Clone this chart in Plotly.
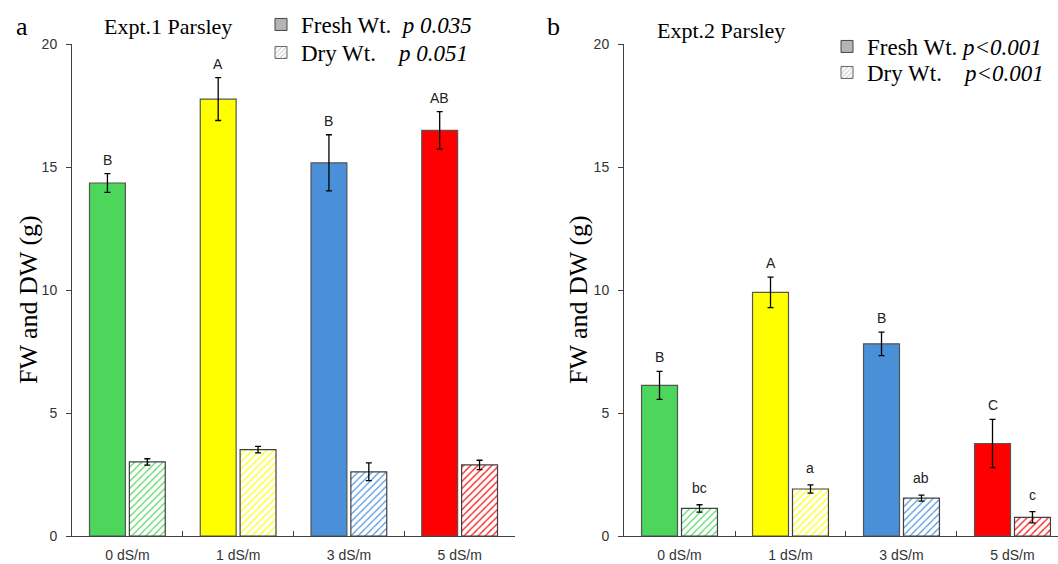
import plotly.graph_objects as go

categories = ["0 dS/m", "1 dS/m", "3 dS/m", "5 dS/m"]
colors = ["#4cd65b", "#ffff00", "#4a90d9", "#ff0000"]

# Expt.1
e1_fresh = [14.35, 17.76, 15.17, 16.49]
e1_fresh_err = [0.38, 0.87, 1.14, 0.76]
e1_dry = [3.01, 3.51, 2.61, 2.89]
e1_dry_err = [0.13, 0.13, 0.36, 0.19]
e1_fresh_letters = ["B", "A", "B", "AB"]
e1_dry_letters = ["", "", "", ""]
e1_p = ["p 0.035", "p 0.051"]

# Expt.2
e2_fresh = [6.12, 9.90, 7.81, 3.76]
e2_fresh_err = [0.57, 0.62, 0.48, 0.98]
e2_dry = [1.12, 1.91, 1.54, 0.76]
e2_dry_err = [0.15, 0.17, 0.12, 0.23]
e2_fresh_letters = ["B", "A", "B", "C"]
e2_dry_letters = ["bc", "a", "ab", "c"]
e2_p = ["p<0.001", "p<0.001"]

W, H = 1058, 564
SERIF = "Liberation Serif, Times New Roman, serif"
SANS = "Liberation Sans, Arial, sans-serif"
NB = "\u00a0"

BAR_W = 0.324
FRESH_OFF = -0.342
DRY_OFF = 0.018

fig = go.Figure()


def add_panel(xa, ya, leg_f, leg_d, fresh, ferr, dry, derr, fl, dl, pvals, fresh_pad, dry_pad):
    fig.add_trace(go.Bar(
        x=categories, y=fresh, width=BAR_W, offset=FRESH_OFF,
        marker=dict(color=colors, line=dict(color="#555555", width=1.2)),
        error_y=dict(type="data", array=ferr, color="black", thickness=1.3, width=3),
        xaxis=xa, yaxis=ya, showlegend=False, hoverinfo="skip"))
    fig.add_trace(go.Bar(
        x=categories, y=dry, width=BAR_W, offset=DRY_OFF,
        marker=dict(color="white", line=dict(color="#404040", width=1.2),
                    pattern=dict(shape="/", fgcolor=colors, bgcolor="white",
                                 size=5, solidity=0.22)),
        error_y=dict(type="data", array=derr, color="black", thickness=1.3, width=3),
        xaxis=xa, yaxis=ya, showlegend=False, hoverinfo="skip"))
    # legend entries
    fig.add_trace(go.Bar(
        x=[categories[0]], y=[None], name="Fresh Wt." + NB * fresh_pad + "<i>" + pvals[0] + "</i>",
        marker=dict(color="#b4b4b4", line=dict(color="#444444", width=1)),
        xaxis=xa, yaxis=ya, legend=leg_f, showlegend=True, width=BAR_W, offset=FRESH_OFF))
    fig.add_trace(go.Bar(
        x=[categories[0]], y=[None], name="Dry Wt." + NB * dry_pad + "<i>" + pvals[1] + "</i>",
        marker=dict(color="white", line=dict(color="#666666", width=1),
                    pattern=dict(shape="/", fgcolor="#c8c8c8", bgcolor="white", size=4, solidity=0.3)),
        xaxis=xa, yaxis=ya, legend=leg_d, showlegend=True, width=BAR_W, offset=DRY_OFF))
    for i in range(len(categories)):
        if fl[i]:
            fig.add_annotation(x=i + FRESH_OFF + BAR_W / 2, y=fresh[i] + ferr[i], xref=xa, yref=ya,
                               text=fl[i], showarrow=False, yanchor="bottom", yshift=4,
                               font=dict(family=SANS, size=14, color="#222"))
        if dl[i]:
            fig.add_annotation(x=i + DRY_OFF + BAR_W / 2, y=dry[i] + derr[i], xref=xa, yref=ya,
                               text=dl[i], showarrow=False, yanchor="bottom", yshift=7,
                               font=dict(family=SANS, size=14, color="#222"))


add_panel("x", "y", "legend", "legend3", e1_fresh, e1_fresh_err, e1_dry, e1_dry_err,
          e1_fresh_letters, e1_dry_letters, e1_p, 2, 4)
add_panel("x2", "y2", "legend2", "legend4", e2_fresh, e2_fresh_err, e2_dry, e2_dry_err,
          e2_fresh_letters, e2_dry_letters, e2_p, 1, 4)

ydom = [28 / H, 1 - 44 / H]
axis_common = dict(showline=True, linecolor="#404040", linewidth=1, showgrid=False,
                   zeroline=False, tickcolor="#404040",
                   tickfont=dict(family=SANS, size=14, color="#333"), automargin=False)


def leg(px_text, py_center):
    return dict(x=(px_text - 41) / W, y=1 - (py_center - 22) / H, xanchor="left", yanchor="top",
                bgcolor="rgba(0,0,0,0)", borderwidth=0, tracegroupgap=0,
                font=dict(family=SERIF, size=23, color="black"), traceorder="normal")


fig.update_layout(
    width=W, height=H, margin=dict(l=0, r=0, t=0, b=0),
    paper_bgcolor="white", plot_bgcolor="white", barmode="overlay",
    template="none",
    xaxis=dict(domain=[72 / W, 515 / W], type="category", range=[-0.5, 3.5],
               tickson="boundaries", ticks="inside", ticklen=5, anchor="y",
               ticklabelstandoff=6, **axis_common),
    yaxis=dict(domain=ydom, range=[0, 20], tickvals=[0, 5, 10, 15, 20], ticks="outside",
               ticklen=5, anchor="x", ticklabelstandoff=6, **axis_common),
    xaxis2=dict(domain=[624 / W, 1.0], type="category", range=[-0.5, 3.41],
                tickson="boundaries", ticks="inside", ticklen=5, anchor="y2",
                ticklabelstandoff=6, **axis_common),
    yaxis2=dict(domain=ydom, range=[0, 20], tickvals=[0, 5, 10, 15, 20], ticks="outside",
                ticklen=5, anchor="x2", ticklabelstandoff=6, **axis_common),
    legend=leg(302, 25),
    legend3=leg(302, 53),
    legend2=leg(868, 47),
    legend4=leg(868, 73),
)

# panel letters, titles, axis titles
texts = [
    ("a", 22, 27, 26, 0),
    ("b", 553, 27, 26, 0),
    ("Expt.1 Parsley", 168, 27, 22, 0),
    ("Expt.2 Parsley", 721, 30, 22, 0),
    ("FW and DW (g)", 28, 300, 26, -90),
    ("FW and DW (g)", 578, 300, 26, -90),
]
for t, px, py, sz, ang in texts:
    fig.add_annotation(text=t, x=px / W, y=1 - py / H, xref="paper", yref="paper",
                       showarrow=False, xanchor="center", yanchor="middle", textangle=ang,
                       font=dict(family=SERIF, size=sz, color="black"))

fig.write_html("out.html", config={"displayModeBar": False},
               post_script="document.body.style.margin='0px';document.body.style.overflow='hidden';")
